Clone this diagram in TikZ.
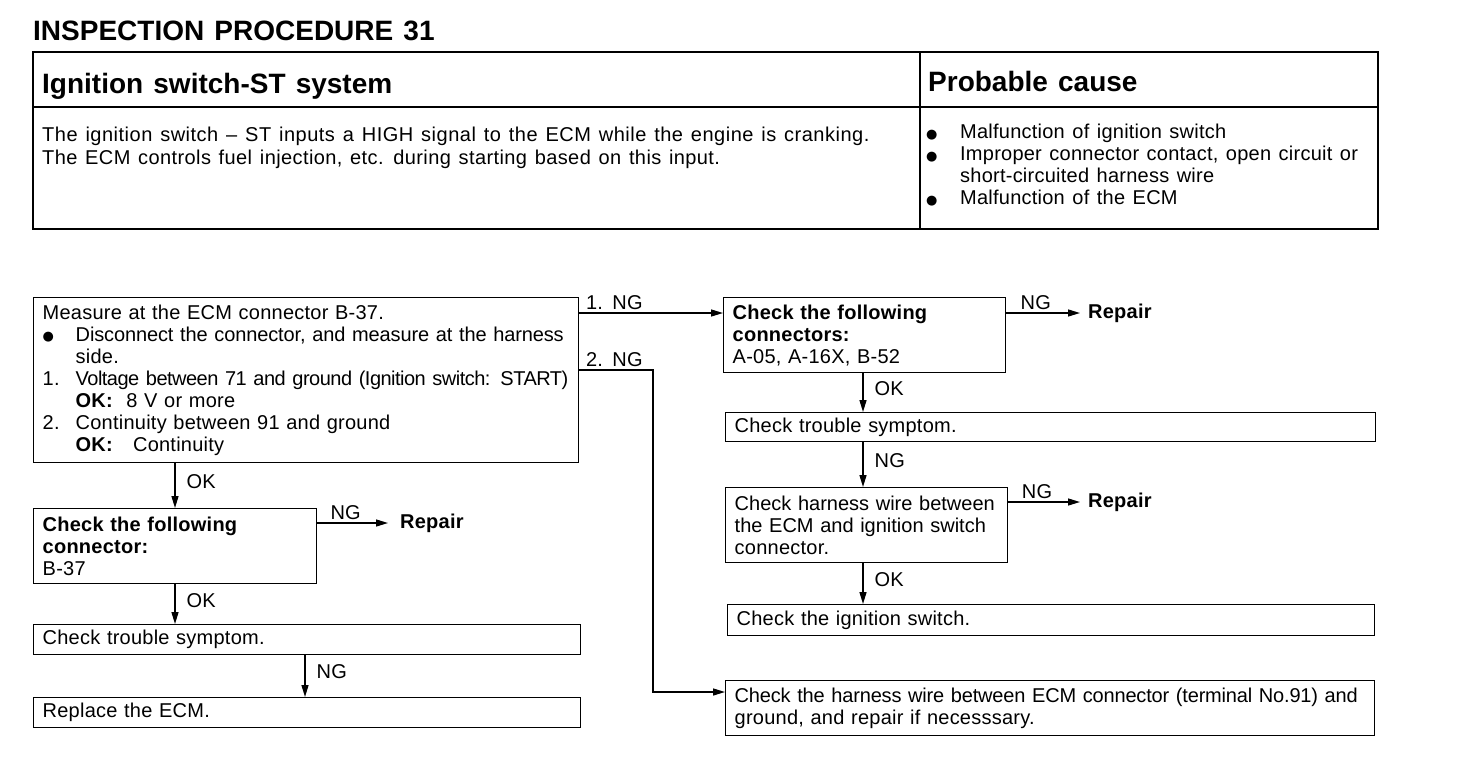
\documentclass[tikz,border=0pt]{standalone}
\usepackage{fontspec}
\setmainfont{Liberation Sans}[LetterSpace=1.2, WordSpace=1.3]
\newfontfamily\dejavu{DejaVu Sans}
\usetikzlibrary{arrows.meta, calc, positioning}
\newcommand\blt{\raisebox{0.5pt}{\dejavu\fontsize{13}{0}\selectfont ●}}
\newcommand\squeeze[2]{{\addfontfeature{LetterSpace=#1}#2}}

\begin{document}
\begin{tikzpicture}[x=1pt, y=-1pt,
    font=\fontsize{20}{22}\selectfont,
    box/.style={draw, line width=1.4pt, anchor=north west, inner xsep=9pt, inner ysep=0pt, align=left},
    flow/.style={line width=1.4pt, -{Triangle[length=12pt,width=7pt]}},
    lbl/.style={right, inner sep=0pt, xshift=11pt},
    repair/.style={anchor=west, inner sep=0pt, font=\fontsize{20}{22}\selectfont\bfseries},
    big/.style={anchor=base west, inner sep=0pt, font=\fontsize{28}{30}\selectfont\bfseries}]
    \fill[white] (0,0) rectangle (1472,782);

    % header table
    \node[big] (title) at (33,40) {\squeeze{0}{INSPECTION PROCEDURE 31}};
    \draw[line width=2.4pt] (33,52) rectangle (1378,229);
    \draw[line width=1.4pt] (33,107) -- (1378,107);
    \draw[line width=1.4pt] (920,52) -- (920,229);
    \node[big] (sys) at (42,93) {\squeeze{0}{Ignition switch-ST system}};
    \node[big] (cause) at (928,91) {\squeeze{0}{Probable cause}};
    \node[anchor=north west, inner sep=0pt, align=left,
          font=\fontsize{20}{23}\selectfont] (desc) at (42,127)
        {\squeeze{2.5}{The ignition switch -- ST inputs a HIGH signal to the ECM while the engine is cranking.}\\
         \squeeze{2}{The ECM controls fuel injection, etc. during starting based on this input.}};
    \node[anchor=north west, inner sep=0pt, align=left] (causes) at (926,124)
        {\makebox[34pt][l]{\blt}Malfunction of ignition switch\\
         \makebox[34pt][l]{\blt}Improper connector contact, open circuit or\\
         \hspace*{34pt}short-circuited harness wire\\
         \makebox[34pt][l]{\blt}Malfunction of the ECM};

    % flow boxes
    \node[box, text width=527pt, minimum height=165pt] (meas) at (33,297)
        {Measure at the ECM connector B-37.\\
         \makebox[33pt][l]{\blt}\squeeze{-0.6}{Disconnect the connector, and measure at the harness}\\
         \hspace*{33pt}side.\\
         \makebox[33pt][l]{1.}\squeeze{-2.6}{Voltage between 71 and ground (Ignition switch: START)}\\
         \hspace*{33pt}\textbf{OK:}\ \ 8 V or more\\
         \makebox[33pt][l]{2.}Continuity between 91 and ground\\
         \hspace*{33pt}\textbf{OK:}\ \ \ Continuity};
    \node[box, text width=265pt, minimum height=75pt] (connF) at (33,508)
        {\textbf{Check the following}\\ \textbf{connector:}\\ B-37};
    \node[box, text width=529pt, minimum height=30pt] (symL) at (33,624) {Check trouble symptom.};
    \node[box, text width=529pt, minimum height=30pt] (ecm) at (33,697) {Replace the ECM.};

    \node[box, text width=264pt, minimum height=75pt] (conns) at (723,297)
        {\textbf{Check the following}\\ \textbf{connectors:}\\ A-05,\ A-16X,\ B-52};
    \node[box, text width=632pt, minimum height=29pt] (symR) at (725,412) {Check trouble symptom.};
    \node[box, text width=264pt, minimum height=75pt] (harn) at (725,487)
        {\squeeze{0}{Check harness wire between}\\ \squeeze{0}{the ECM and ignition switch}\\ connector.};
    \node[box, text width=629pt, minimum height=31pt] (ign) at (727,604) {Check the ignition switch.};
    \node[box, text width=631pt, minimum height=55pt] (gnd) at (725,680)
        {\squeeze{-0.9}{Check the harness wire between ECM connector (terminal No.91) and}\\
         ground, and repair if necesssary.};

    \node[repair] (repF) at (400,523) {Repair};
    \node[repair] (repB) at (1088,313) {Repair};
    \node[repair] (repD) at (1088,502) {Repair};

    % connectors
    \coordinate (colL) at (175,0);
    \coordinate (colL2) at (305,0);
    \coordinate (colR) at (863,0);
    \coordinate (ngOne) at (0,313);
    \coordinate (ngTwo) at (653,370);
    \coordinate (gndIn) at (0,692);

    \draw[flow] (meas.south -| colL) -- node[lbl, pos=0.4] {OK} (connF.north -| colL);
    \draw[flow] (connF.south -| colL) -- node[lbl, pos=0.4] {OK} (symL.north -| colL);
    \draw[flow] (symL.south -| colL2) -- node[lbl, pos=0.4] {NG} (ecm.north -| colL2);
    \draw[flow] (connF.east |- repF) -- node[above, pos=0.4, inner sep=3pt] {NG} ([xshift=-12pt]repF.west);

    \draw[flow] (meas.east |- ngOne) node[above right, inner sep=3pt, xshift=3pt] {1. NG} -- (conns.west |- ngOne);
    \draw[flow] (meas.east |- ngTwo) node[above right, inner sep=3pt, xshift=3pt] {2. NG} -- (ngTwo) |- (gnd.west |- gndIn);

    \draw[flow] (conns.east |- repB) -- node[above, pos=0.4, inner sep=3pt] {NG} ([xshift=-8pt]repB.west);
    \draw[flow] (conns.south -| colR) -- node[lbl, pos=0.4] {OK} (symR.north -| colR);
    \draw[flow] (symR.south -| colR) -- node[lbl, pos=0.4] {NG} (harn.north -| colR);
    \draw[flow] (harn.east |- repD) -- node[above, pos=0.4, inner sep=3pt] {NG} ([xshift=-8pt]repD.west);
    \draw[flow] (harn.south -| colR) -- node[lbl, pos=0.4] {OK} (ign.north -| colR);
\end{tikzpicture}
\end{document}
